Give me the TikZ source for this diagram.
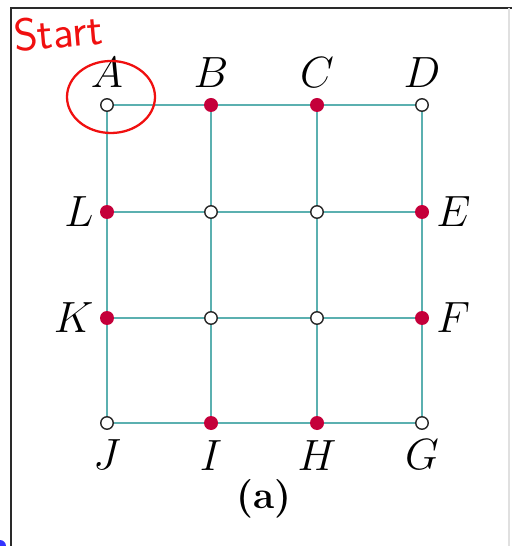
\documentclass[tikz,border=0pt]{standalone}
\usepackage{tikz}
\usetikzlibrary{calc,positioning}
\definecolor{GridTeal}{HTML}{5BB0B0}
\definecolor{DotRed}{HTML}{C4003A}
\definecolor{InkRed}{HTML}{F01010}
\definecolor{FrameGray}{HTML}{2A2A2A}
\tikzset{
  openpt/.style={circle, draw=black!85, fill=white, line width=0.8pt, inner sep=0pt, minimum size=0.25cm},
  redpt/.style={circle, fill=DotRed, draw=none, inner sep=0pt, minimum size=0.28cm},
  gridline/.style={draw=GridTeal, line width=1.1pt},
  lbl/.style={font=\fontsize{23}{25}\selectfont, inner sep=1pt},
}
\begin{document}
\begin{tikzpicture}[x=0.02cm, y=-0.02cm]
      \useasboundingbox (0,0) rectangle (512,546);
      % Window frame
      \draw[FrameGray, line width=1.1pt] (11,546) -- (11,8) -- (512,8);
      \draw[black!12, line width=0.6pt] (509,8) -- (509,546);
      \fill[blue!80] (0,546) circle (6);
      % Grid points
      \node[openpt, label={[lbl, label distance=0.16cm]above:$A$}] (A) at (107,105) {};
      \node[redpt, label={[lbl, label distance=0.16cm]above:$B$}] (B) at (211,105) {};
      \node[redpt, label={[lbl, label distance=0.16cm]above:$C$}] (C) at (317,105) {};
      \node[openpt, label={[lbl, label distance=0.16cm]above:$D$}] (D) at (422,105) {};
      \node[redpt, label={[lbl, label distance=0.1cm]right:$E$}] (E) at (422,212) {};
      \node[redpt, label={[lbl, label distance=0.1cm]right:$F$}] (F) at (422,318) {};
      \node[openpt, label={[lbl, label distance=0.16cm]below:$G$}] (G) at (422,423) {};
      \node[redpt, label={[lbl, label distance=0.16cm]below:$H$}] (H) at (317,423) {};
      \node[redpt, label={[lbl, label distance=0.16cm]below:$I$}] (I) at (211,423) {};
      \node[openpt, label={[lbl, label distance=0.16cm]below:$J$}] (J) at (107,423) {};
      \node[redpt, label={[lbl, label distance=0.08cm]left:$K$}] (K) at (107,318) {};
      \node[redpt, label={[lbl, label distance=0.08cm]left:$L$}] (L) at (107,212) {};
      \node[openpt] (BL) at (211,212) {};
      \node[openpt] (CL) at (317,212) {};
      \node[openpt] (BK) at (211,318) {};
      \node[openpt] (CK) at (317,318) {};
      % Grid lines
      \draw[gridline] (A) -- (B) -- (C) -- (D) -- (E) -- (F) -- (G) -- (H) -- (I) -- (J) -- (K) -- (L) -- (A);
      \draw[gridline] (L) -- (BL) -- (CL) -- (E);
      \draw[gridline] (K) -- (BK) -- (CK) -- (F);
      \draw[gridline] (B) -- (BL) -- (BK) -- (I);
      \draw[gridline] (C) -- (CL) -- (CK) -- (H);
      \node[font=\fontsize{22}{24}\selectfont\bfseries] (cap) at (264,499) {(a)};
      % Handwritten note
      \node[InkRed, font=\fontsize{26}{28}\sffamily, inner sep=0pt, rotate=5] (start) at (58,32) {Start};
      \draw[InkRed, line width=1.3pt] (111,97) ellipse (44 and 36);
    \end{tikzpicture}
\end{document}
